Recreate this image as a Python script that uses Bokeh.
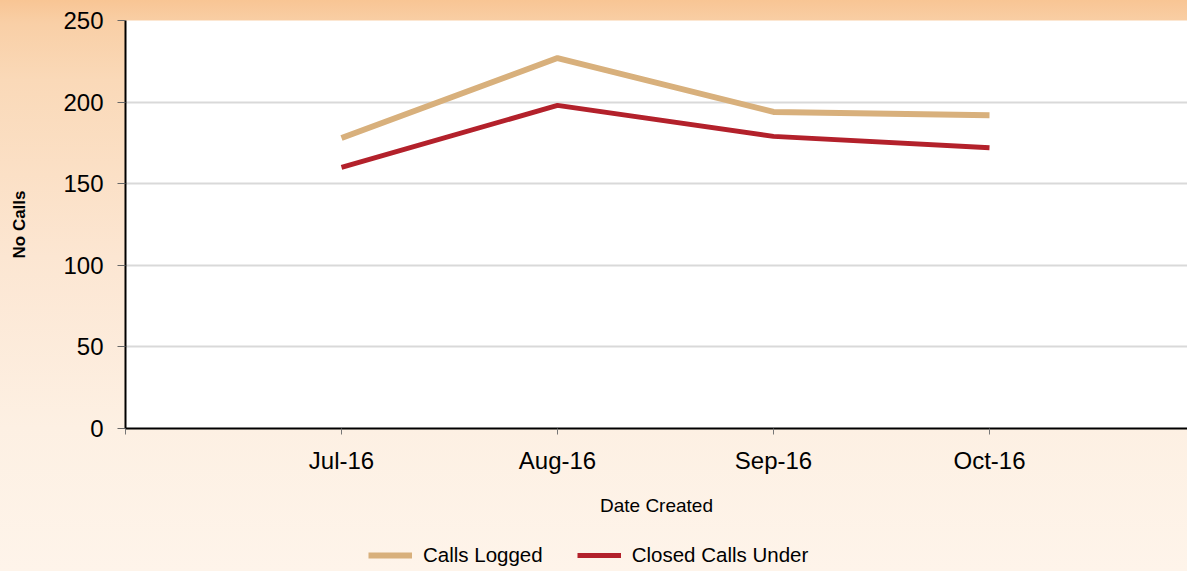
from bokeh.plotting import figure
from bokeh.layouts import column
from bokeh.models import FixedTicker, Legend, LegendItem, Range1d
from bokeh.embed import file_html
from bokeh.resources import INLINE

categories = ["Jul-16", "Aug-16", "Sep-16", "Oct-16"]
calls_logged = [178, 227, 194, 192]
closed_calls = [160, 198, 179, 172]
y_ticks = [0, 50, 100, 150, 200, 250]
series_names = ["Calls Logged", "Closed Calls Under"]
series_colors = ["#d8b07c", "#b3212b"]
series_widths = [6, 5]

xs = list(range(1, len(categories) + 1))
FONT = "Liberation Sans"

W = 1187
H_MAIN, H_LEG = 527, 44
LEFT, TOP = 125, 20
FRAME_BOTTOM = 428

p = figure(width=W, height=H_MAIN, output_backend="svg", toolbar_location=None,
           x_range=Range1d(0, (W - LEFT) / 216.0), y_range=Range1d(0, 250),
           min_border_left=LEFT, min_border_right=0, min_border_top=TOP,
           min_border_bottom=H_MAIN - FRAME_BOTTOM)
p.border_fill_alpha = 0
p.background_fill_color = "white"
p.outline_line_color = None

p.line(xs, calls_logged, line_color=series_colors[0], line_width=series_widths[0])
p.line(xs, closed_calls, line_color=series_colors[1], line_width=series_widths[1])

# x axis
p.xaxis.ticker = FixedTicker(ticks=[0, 1, 2, 3, 4, 5])
over = {0: "", 5: ""}
for i, c in enumerate(categories):
    over[i + 1] = c
p.xaxis.major_label_overrides = over
p.xaxis.axis_line_color = "black"
p.xaxis.axis_line_width = 2
p.xaxis.major_tick_line_color = "#777777"
p.xaxis.major_tick_out = 6
p.xaxis.major_tick_in = 0
p.xaxis.minor_tick_line_color = None
p.xaxis.major_label_text_font = FONT
p.xaxis.major_label_text_font_size = "24px"
p.xaxis.major_label_text_color = "black"
p.xaxis.major_label_standoff = 12
p.xaxis.axis_label = "Date Created"
p.xaxis.axis_label_text_font = FONT
p.xaxis.axis_label_text_font_size = "19px"
p.xaxis.axis_label_text_font_style = "normal"
p.xaxis.axis_label_text_color = "black"
p.xaxis.axis_label_standoff = 18

# y axis
p.yaxis.ticker = FixedTicker(ticks=y_ticks)
p.yaxis.axis_line_color = "black"
p.yaxis.axis_line_width = 2
p.yaxis.major_tick_line_color = "#666666"
p.yaxis.major_tick_out = 8
p.yaxis.major_tick_in = 0
p.yaxis.minor_tick_line_color = None
p.yaxis.major_label_text_font = FONT
p.yaxis.major_label_text_font_size = "24px"
p.yaxis.major_label_text_color = "black"
p.yaxis.major_label_standoff = 14
p.yaxis.axis_label = "No Calls"
p.yaxis.axis_label_text_font = FONT
p.yaxis.axis_label_text_font_size = "17px"
p.yaxis.axis_label_text_font_style = "bold"
p.yaxis.axis_label_text_color = "black"
p.yaxis.axis_label_standoff = 31

p.xgrid.grid_line_color = None
p.ygrid.grid_line_color = "#d9d9d9"
p.ygrid.grid_line_width = 2

# legend strip below the chart (its frame is aligned with the chart's frame)
q = figure(width=W, height=H_LEG, output_backend="svg", toolbar_location=None,
           x_range=Range1d(-10, -9), y_range=Range1d(-10, -9),
           x_axis_type=None, y_axis_type=None,
           min_border_left=LEFT, min_border_right=0, min_border_top=0, min_border_bottom=0)
q.border_fill_alpha = 0
q.background_fill_alpha = 0
q.outline_line_color = None
q.xgrid.visible = False
q.ygrid.visible = False
items = []
for name, vals, col, lw in zip(series_names, [calls_logged, closed_calls], series_colors, series_widths):
    r = q.line(xs, vals, line_color=col, line_width=lw)
    items.append(LegendItem(label=name, renderers=[r]))
legend = Legend(items=items, orientation="horizontal", location=(368 - LEFT, 4),
                glyph_width=44, glyph_height=20, label_height=20, label_standoff=11, spacing=34,
                padding=0, margin=0, border_line_color=None, background_fill_alpha=0,
                label_text_font=FONT, label_text_font_size="20.5px", label_text_color="black")
q.add_layout(legend, "center")

layout = column(p, q, spacing=0)
layout.styles = {"background": "linear-gradient(180deg, #f8c594 0%, #f9cfa6 4%, #fad9b8 14%, #fce6d2 45%, #fdf0e3 75%, #fef4ea 100%)"}

open("out.html", "w").write(file_html(layout, INLINE))
